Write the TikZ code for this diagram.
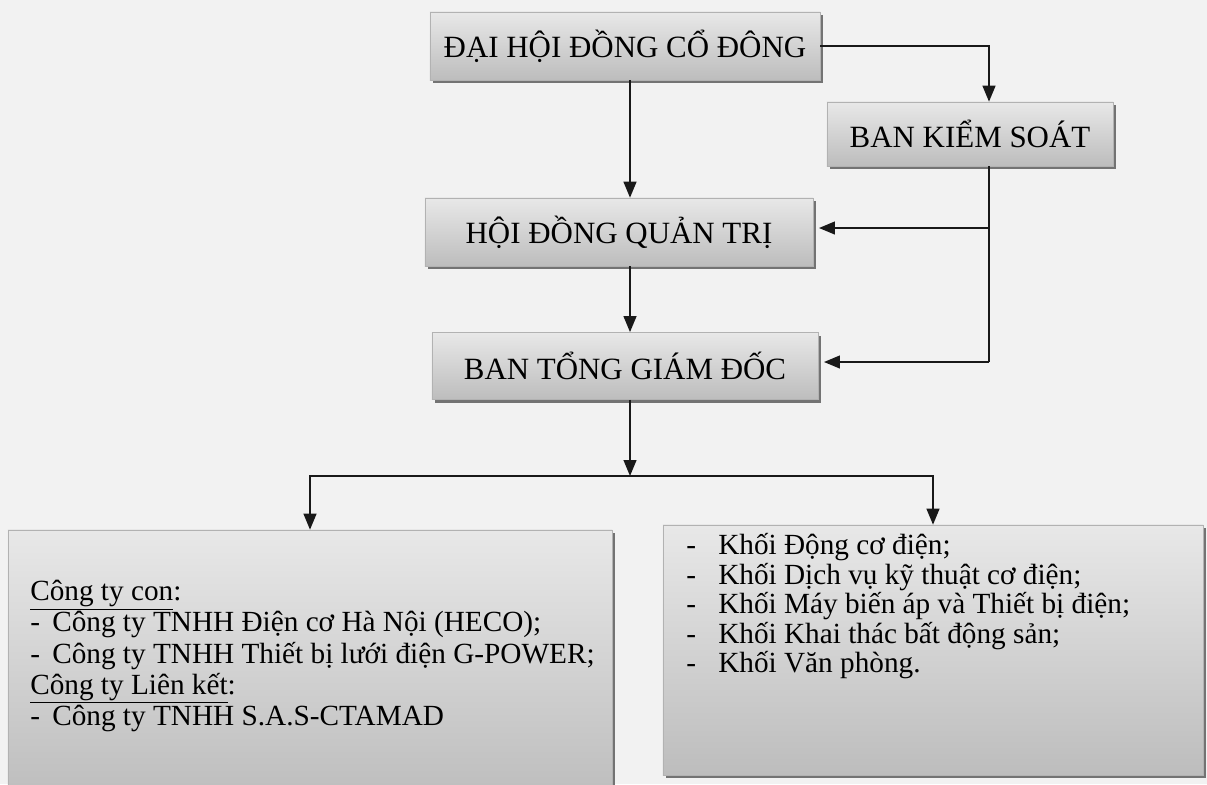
\documentclass[tikz,border=0pt]{standalone}
\usepackage{fontspec}
\setmainfont{Liberation Serif}
\usetikzlibrary{arrows.meta,shadows}

\begin{document}
\begin{tikzpicture}[
      x=0.025cm, y=-0.025cm,
      orgbox/.style={
        draw=black!30,
        top color=black!9,
        bottom color=black!26,
        drop shadow={shadow xshift=0.08cm, shadow yshift=-0.08cm,
                     fill=black!55, opacity=1},
        inner sep=0pt
      },
      titlebox/.style={orgbox, font=\fontsize{22}{26}\selectfont},
      listtext/.style={anchor=north west, inner sep=0pt, align=left},
      flowline/.style={line width=1.3pt, draw=black!90},
      flowarrow/.style={flowline, -{Triangle[width=0.32cm,length=0.4cm]}}
    ]
    \fill[black!5] (0,0) rectangle (1207,784);
    \useasboundingbox (0,0) rectangle (1207,784);

    \node[titlebox, minimum width=9.75cm, minimum height=1.7cm] (dhcd) at (625,46)
      {ĐẠI HỘI ĐỒNG CỔ ĐÔNG};
    \node[titlebox, minimum width=7.15cm, minimum height=1.6cm] (bks) at (970,134)
      {BAN KIỂM SOÁT};
    \node[titlebox, minimum width=9.7cm, minimum height=1.7cm] (hdqt) at (619,232)
      {HỘI ĐỒNG QUẢN TRỊ};
    \node[titlebox, minimum width=9.65cm, minimum height=1.68cm] (btgd) at (625,366)
      {BAN TỔNG GIÁM ĐỐC};
    \node[orgbox, minimum width=15.1cm, minimum height=6.75cm] (subs) at (310,665) {};
    \node[orgbox, minimum width=13.5cm, minimum height=6.25cm] (blocks) at (933,650) {};

    % contents of the two lower boxes
    \node[listtext, font=\fontsize{20.8}{22.2}\selectfont] (substext) at (30,580)
      {\underline{Công ty con}:\\
       \makebox[0.55cm][l]{-}Công ty TNHH Điện cơ Hà Nội (HECO);\\
       \makebox[0.55cm][l]{-}Công ty TNHH Thiết bị lưới điện G-POWER;\\
       \underline{Công ty Liên kết}:\\
       \makebox[0.55cm][l]{-}Công ty TNHH S.A.S-CTAMAD};
    \node[listtext, font=\fontsize{20.8}{21}\selectfont] (blockstext) at (686,533)
      {\makebox[0.8cm][l]{-}Khối Động cơ điện;\\
       \makebox[0.8cm][l]{-}Khối Dịch vụ kỹ thuật cơ điện;\\
       \makebox[0.8cm][l]{-}Khối Máy biến áp và Thiết bị điện;\\
       \makebox[0.8cm][l]{-}Khối Khai thác bất động sản;\\
       \makebox[0.8cm][l]{-}Khối Văn phòng.};

    \coordinate (kside) at (989,362);
    \coordinate (split) at (630,476);

    \draw[flowarrow] (dhcd.east) -| (bks.north -| kside);
    \draw[flowarrow] (dhcd.south -| 630,0) -- (hdqt.north -| 630,0);
    \draw[flowline] (bks.south -| kside) -- (kside);
    \draw[flowarrow] (kside |- 0,228) -- ([xshift=4pt]hdqt.east |- 0,228);
    \draw[flowarrow] (kside) -- ([xshift=4pt]btgd.east |- kside);
    \draw[flowarrow] (hdqt.south -| 630,0) -- (btgd.north -| 630,0);
    \draw[flowarrow] (btgd.south -| split) -- (split);
    \draw[flowarrow] (split) -| (subs.north);
    \draw[flowarrow] (split) -| (blocks.north);
  \end{tikzpicture}
\end{document}
